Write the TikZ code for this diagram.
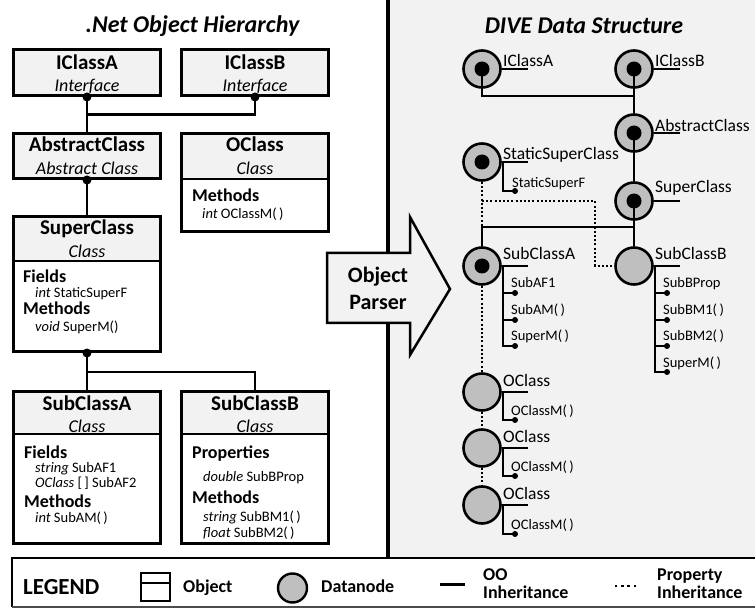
\documentclass[tikz,border=0pt]{standalone}
\usepackage{fontspec}
\setmainfont{Carlito}
\usetikzlibrary{calc}
\definecolor{panel}{HTML}{F2F2F2}
\definecolor{hdr}{HTML}{F2F2F2}
\definecolor{dgray}{HTML}{BFBFBF}
\newcommand\FHead{\fontsize{21}{24}\selectfont\bfseries}
\newcommand\FType{\fontsize{18}{21}\selectfont\itshape}
\newcommand\FSec{\fontsize{18}{21}\selectfont\bfseries}
\newcommand\FMem{\fontsize{14.5}{17}\selectfont}
\newcommand\FTitle{\fontsize{24}{28}\selectfont\bfseries\itshape}
\newcommand\FLab{\fontsize{17.5}{20}\selectfont}
\newcommand\FChild{\fontsize{14.5}{17}\selectfont}
\newcommand\FLeg{\fontsize{18}{20}\selectfont\bfseries}
\newcommand\FLegBig{\fontsize{23}{26}\selectfont\bfseries}
\newcommand\FParser{\fontsize{22}{26}\selectfont\bfseries}
\tikzset{
  objbox/.style={draw, line width=2.6pt, inner sep=0pt, minimum width=147.4pt},
  conn/.style={line width=2.6pt},
  jdot/.style={circle, fill=black, inner sep=0pt, minimum size=9pt},
  tx/.style={inner sep=0pt, anchor=base},
  txl/.style={inner sep=0pt, anchor=base west},
  dnode/.style={circle, draw, line width=2.6pt, fill=dgray, minimum size=37pt, inner sep=0pt},
  oo/.style={line width=2.4pt},
  stubl/.style={line width=2.6pt},
  childl/.style={line width=1.6pt},
  cdot/.style={circle, fill=black, inner sep=0pt, minimum size=6pt},
  prop/.style={line width=2pt, dash pattern=on 2pt off 2.2pt},
}
\begin{document}
\begin{tikzpicture}[x=1pt,y=-1pt]
\useasboundingbox (0,0) rectangle (755,612);
% right panel background and divider
\fill[panel] (388,0) rectangle (755,558);
\draw[line width=4pt] (388,0) -- (388,558);

% titles
\node[tx, font=\FTitle] (t1) at (192.5,33) {.Net Object Hierarchy};
\node[tx, font=\FTitle] (t2) at (584,34) {DIVE Data Structure};

% ---------------- left: object boxes ----------------
\node[objbox, minimum height=46.4pt, fill=hdr] (ia) at (87,72.5) {};
\node[objbox, minimum height=46.4pt, fill=hdr] (ib) at (255,72.5) {};
\node[objbox, minimum height=45.4pt, fill=hdr] (ac) at (87,156) {};
\fill[hdr] (180,132) rectangle (330,179);
\node[objbox, minimum height=98.4pt] (oc) at (255,182.5) {};
\draw[line width=2pt] (181,179) -- (329,179);
\fill[hdr] (12,215) rectangle (162,261);
\node[objbox, minimum height=135.4pt] (sup) at (87,284) {};
\draw[line width=2pt] (13,261) -- (161,261);
\fill[hdr] (12,390) rectangle (162,434);
\node[objbox, minimum height=152.4pt] (sa) at (87,467.5) {};
\draw[line width=2pt] (13,434) -- (161,434);
\fill[hdr] (180,390) rectangle (330,434);
\node[objbox, minimum height=152.4pt] (sb) at (255,467.5) {};
\draw[line width=2pt] (181,434) -- (329,434);

% connectors left
\draw[conn] (ia.south) -- (ac.north);
\draw[conn] (ib.south) |- ($(ia.south)!.5!(ac.north)$);
\draw[conn] (ac.south) -- (sup.north);
\draw[conn] (sup.south) -- (sa.north);
\draw[conn] (sup.south) -- ($(sup.south)+(0,19)$) -| (sb.north);
\node[jdot] (d1) at (ia.south) {};
\node[jdot] (d2) at (ib.south) {};
\node[jdot] (d3) at (ac.south) {};
\node[jdot] (d4) at (sup.south) {};

% header texts
\node[tx, font=\FHead] (h1) at (87,70) {IClassA};
\node[tx, font=\FType] (y1) at (87,92) {Interface};
\node[tx, font=\FHead] (h2) at (255,70) {IClassB};
\node[tx, font=\FType] (y2) at (255,92) {Interface};
\node[tx, font=\FHead] (h3) at (87,152) {AbstractClass};
\node[tx, font=\FType] (y3) at (87,175) {Abstract Class};
\node[tx, font=\FHead] (h4) at (255,152) {OClass};
\node[tx, font=\FType] (y4) at (255,175) {Class};
\node[tx, font=\FHead] (h5) at (87,235) {SuperClass};
\node[tx, font=\FType] (y5) at (87,258) {Class};
\node[tx, font=\FHead] (h6) at (87,410) {SubClassA};
\node[tx, font=\FType] (y6) at (87,432) {Class};
\node[tx, font=\FHead] (h7) at (255,410) {SubClassB};
\node[tx, font=\FType] (y7) at (255,432) {Class};

% members
\node[txl, font=\FSec] (m1) at (192,202) {Methods};
\node[txl, font=\FMem] (m2) at (202,219) {\textit{int} OClassM(\,)};
\node[txl, font=\FSec] (m3) at (23,283) {Fields};
\node[txl, font=\FMem] (m4) at (35,298) {\textit{int} StaticSuperF};
\node[txl, font=\FSec] (m5) at (23,315) {Methods};
\node[txl, font=\FMem] (m6) at (35,331) {\textit{void} SuperM()};
\node[txl, font=\FSec] (m7) at (24,458) {Fields};
\node[txl, font=\FMem] (m8) at (35,472) {\textit{string} SubAF1};
\node[txl, font=\FMem] (m9) at (35,487) {\textit{OClass} [\,] SubAF2};
\node[txl, font=\FSec] (m10) at (24,507) {Methods};
\node[txl, font=\FMem] (m11) at (35,522) {\textit{int} SubAM(\,)};
\node[txl, font=\FSec] (m12) at (192,458) {Properties};
\node[txl, font=\FMem] (m13) at (203,481) {\textit{double} SubBProp};
\node[txl, font=\FSec] (m14) at (192,503) {Methods};
\node[txl, font=\FMem] (m15) at (203,521) {\textit{string} SubBM1(\,)};
\node[txl, font=\FMem] (m16) at (203,537) {\textit{float} SubBM2(\,)};

% ---------------- parser arrow ----------------
\draw[line width=2.5pt, fill=panel, line join=miter]
  (327,253) -- (410,253) -- (410,217) -- (450,289) -- (410,355) -- (410,323) -- (327,323) -- cycle;
\node[tx, font=\FParser] (p1) at (378,283) {Object};
\node[tx, font=\FParser] (p2) at (378,310) {Parser};

% ---------------- right: datanodes ----------------
\node[dnode] (iA) at (482,69) {};
\node[dnode] (iB) at (634,69) {};
\node[dnode] (abs) at (634,133) {};
\node[dnode] (ssc) at (482,162) {};
\node[dnode] (sup2) at (634,201) {};
\node[dnode] (sA) at (482,266) {};
\node[dnode] (sB) at (634,266) {};
\node[dnode] (o1) at (482,392) {};
\node[dnode] (o2) at (482,448) {};
\node[dnode] (o3) at (482,505) {};

% property inheritance (dotted)
\coordinate (pA) at (482,201);
\coordinate (pB) at (595,266);
\draw[prop] (ssc) -- (sA);
\draw[prop] (pA) -| (pB) -- (sB);
\draw[prop] (sA) -- (o1);
\draw[prop] (o1) -- (o2);
\draw[prop] (o2) -- (o3);

% OO inheritance (solid)
\coordinate (jA) at (634,96);
\coordinate (jB) at (634,227);
\draw[oo] (iA.center) |- (jA);
\draw[oo] (iB.center) -- (abs);
\draw[oo] (abs.center) -- (sup2);
\draw[oo] (sup2.center) -- (sB);
\draw[oo] (jB) -| (sA);

% stubs
\foreach \n in {iA,iB,abs,ssc,sup2,sA,sB,o1,o2,o3}{
  \draw[stubl] (\n.east) -- ++(26,0);
}
% inner dots
\foreach \n in {iA,iB,abs,ssc,sup2,sA}{
  \fill (\n.center) circle[radius=7.5pt];
}

% node labels
\node[txl, font=\FLab] (l1) at (503,67) {IClassA};
\node[txl, font=\FLab] (l2) at (655,67) {IClassB};
\node[txl, font=\FLab] (l3) at (655,132) {AbstractClass};
\node[txl, font=\FLab] (l4) at (503,160) {StaticSuperClass};
\node[txl, font=\FLab] (l5) at (655,193) {SuperClass};
\node[txl, font=\FLab] (l6) at (503,260) {SubClassA};
\node[txl, font=\FLab] (l7) at (655,260) {SubClassB};
\node[txl, font=\FLab] (l8) at (503,386) {OClass};
\node[txl, font=\FLab] (l9) at (503,442) {OClass};
\node[txl, font=\FLab] (l10) at (503,499) {OClass};

% children
\node[cdot] (c0) at (515,191) {};
\draw[childl] ($(ssc.east)+(1,0)$) |- (c0.center);
\node[txl, font=\FChild] (k0) at (512,188) {StaticSuperF};

\node[cdot] (ca1) at (515,293) {};
\node[cdot] (ca2) at (515,320) {};
\node[cdot] (ca3) at (515,346) {};
\foreach \c in {ca1,ca2,ca3}{\draw[childl] ($(sA.east)+(1,0)$) |- (\c.center);}
\node[txl, font=\FChild] (ka1) at (511,288) {SubAF1};
\node[txl, font=\FChild] (ka2) at (511,315) {SubAM(\,)};
\node[txl, font=\FChild] (ka3) at (511,341) {SuperM(\,)};

\node[cdot] (cb1) at (667,293) {};
\node[cdot] (cb2) at (667,320) {};
\node[cdot] (cb3) at (667,346) {};
\node[cdot] (cb4) at (667,372) {};
\foreach \c in {cb1,cb2,cb3,cb4}{\draw[childl] ($(sB.east)+(1,0)$) |- (\c.center);}
\node[txl, font=\FChild] (kb1) at (663,288) {SubBProp};
\node[txl, font=\FChild] (kb2) at (663,315) {SubBM1(\,)};
\node[txl, font=\FChild] (kb3) at (663,341) {SubBM2(\,)};
\node[txl, font=\FChild] (kb4) at (663,367) {SuperM(\,)};

\node[cdot] (co1) at (515,420) {};
\node[cdot] (co2) at (515,476) {};
\node[cdot] (co3) at (515,534) {};
\draw[childl] ($(o1.east)+(1,0)$) |- (co1.center);
\draw[childl] ($(o2.east)+(1,0)$) |- (co2.center);
\draw[childl] ($(o3.east)+(1,0)$) |- (co3.center);
\node[txl, font=\FChild] (ko1) at (511,415) {OClassM(\,)};
\node[txl, font=\FChild] (ko2) at (511,471) {OClassM(\,)};
\node[txl, font=\FChild] (ko3) at (511,529) {OClassM(\,)};

% ---------------- legend ----------------
\fill[white] (12,558) rectangle (755,607);
\draw[line width=2.6pt] (757,558) -- (12,558) -- (12,607);
\draw[line width=1.6pt, black!70] (12,607) -- (757,607);
\node[txl, font=\FLegBig] (lg) at (23,594) {LEGEND};
\node[draw, line width=2pt, minimum width=29pt, minimum height=28pt, inner sep=0pt] (lobj) at (155.5,587) {};
\draw[line width=2pt] (lobj.west |- 0,583) -- (lobj.east |- 0,583);
\node[txl, font=\FLeg] (lg1) at (183,592) {Object};
\node[circle, draw, line width=2.4pt, fill=dgray, minimum size=29pt, inner sep=0pt] (ldn) at (292.5,588) {};
\node[txl, font=\FLeg] (lg2) at (321,592) {Datanode};
\draw[line width=3pt] (440,584) -- (465,584);
\node[txl, font=\FLeg] (lg3) at (483,580) {OO};
\node[txl, font=\FLeg] (lg4) at (483,598) {Inheritance};
\draw[line width=2.4pt, dash pattern=on 2.4pt off 3.8pt] (615,586) -- (639,586);
\node[txl, font=\FLeg] (lg5) at (657,580) {Property};
\node[txl, font=\FLeg] (lg6) at (657,598) {Inheritance};
\end{tikzpicture}
\end{document}
